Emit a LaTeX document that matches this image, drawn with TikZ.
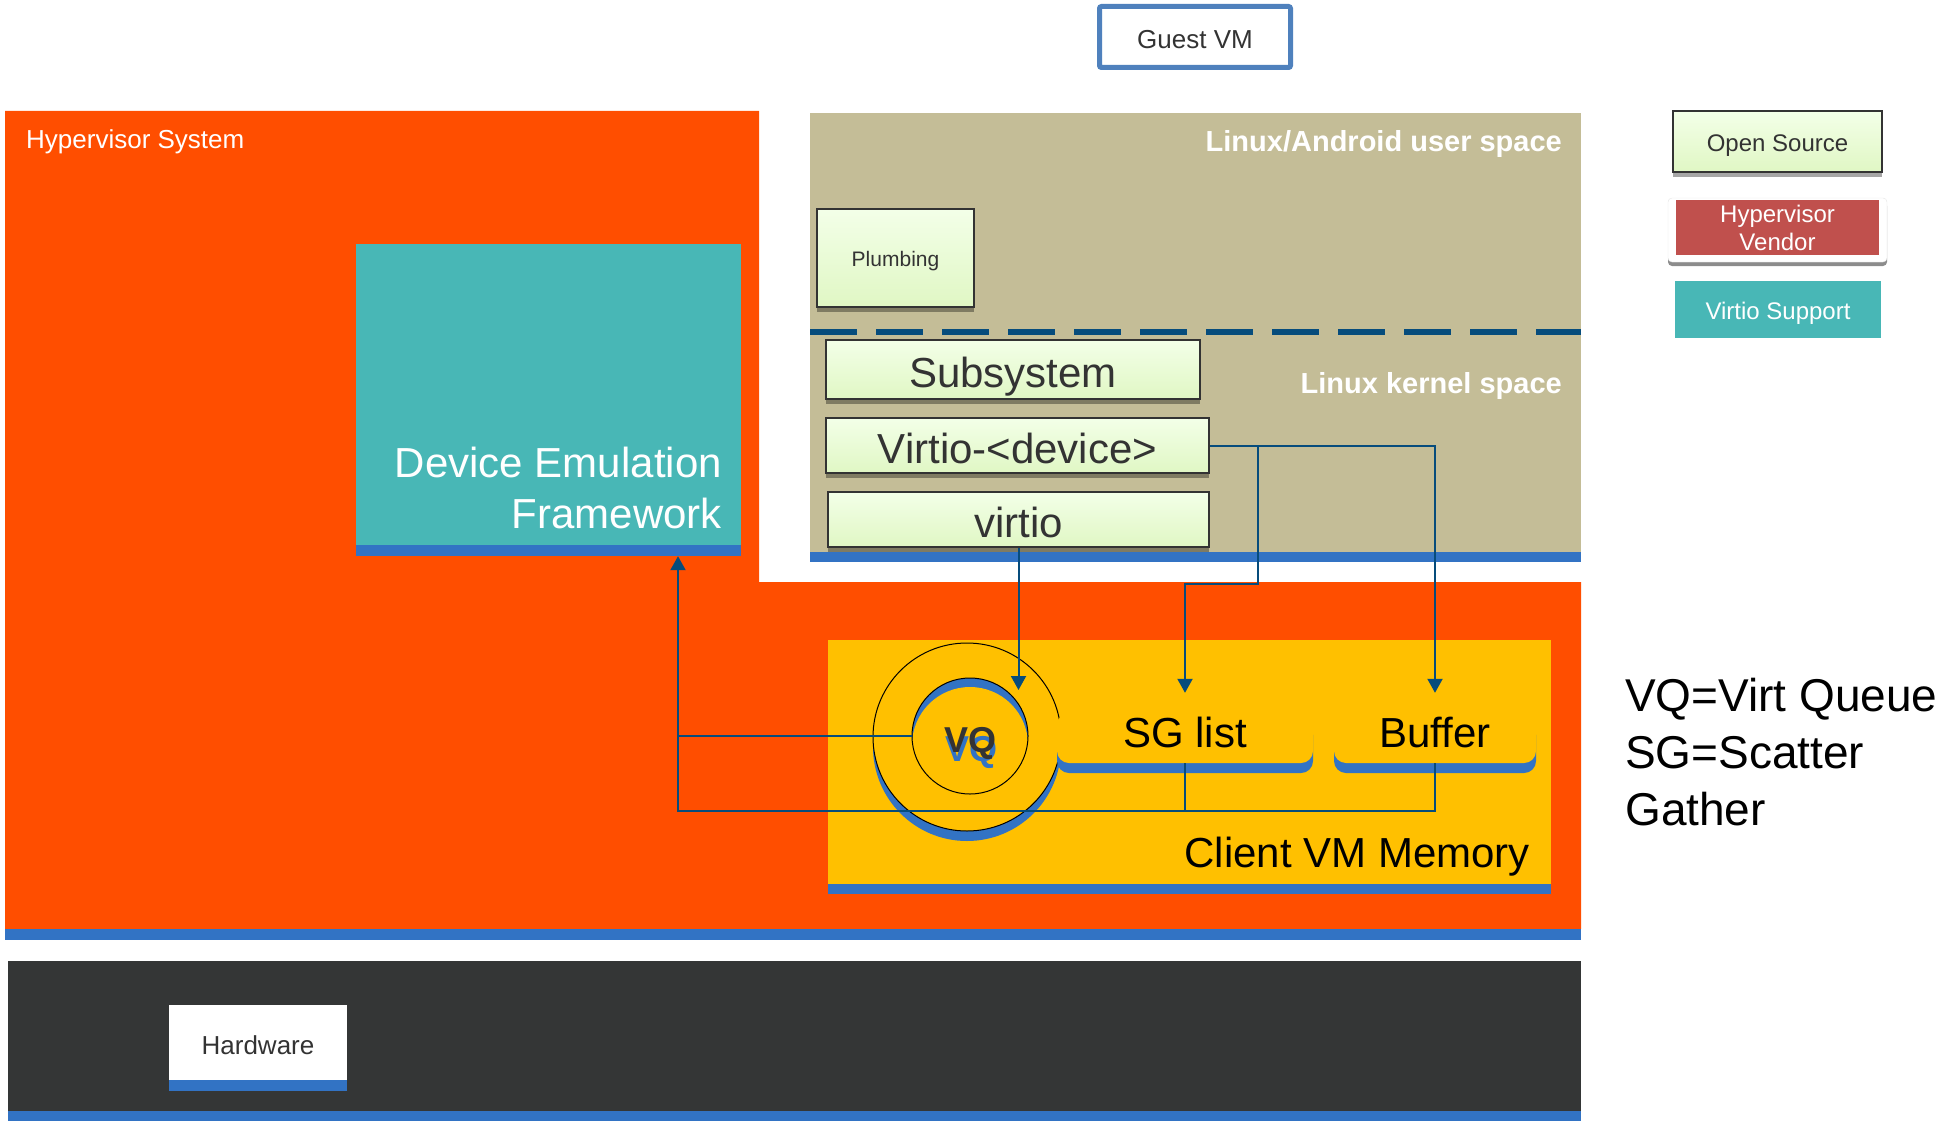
\documentclass[tikz,border=0pt]{standalone}
\usepackage{fontspec}
\setmainfont{Liberation Sans}
\usepackage{tikz}
\usetikzlibrary{arrows.meta}
\usetikzlibrary{shadows}

\definecolor{hypred}{HTML}{FF4E00}
\definecolor{barblue}{HTML}{3273C4}
\definecolor{userbeige}{HTML}{C4BD97}
\definecolor{memyellow}{HTML}{FFC000}
\definecolor{emuteal}{HTML}{48B7B6}
\definecolor{hwdark}{HTML}{343636}
\definecolor{linkblue}{HTML}{064C7C}
\definecolor{vendorred}{HTML}{C0504D}
\definecolor{guestblue}{HTML}{4F81BD}
\definecolor{ostop}{HTML}{F3FFE8}
\definecolor{osbot}{HTML}{E0F7C4}
\definecolor{txtgray}{HTML}{333333}

\begin{document}
\begin{tikzpicture}[x=1pt, y=-1pt,
  every node/.style={inner sep=0pt},
  link/.style={draw=linkblue, line width=2pt, -{Triangle[width=15pt,length=14pt]}},
  wire/.style={draw=linkblue, line width=2pt},
  osbox/.style={draw=txtgray, line width=2pt, top color=ostop, bottom color=osbot, text=txtgray,
    drop shadow={shadow xshift=0pt, shadow yshift=-5pt, fill=black, opacity=.35}},
  barred/.style={path picture={\fill[barblue] (path picture bounding box.south west) rectangle ([yshift=11pt]path picture bounding box.south east);}},
  memslot/.style={fill=memyellow, rounded corners=12pt, minimum height=50pt, text height=30pt, text depth=12pt,
    font=\fontsize{42}{50}\selectfont, drop shadow={shadow xshift=0pt, shadow yshift=-10pt, fill=barblue, opacity=1}},
  big/.style={font=\fontsize{42}{50}\selectfont, text height=35pt, text depth=0pt},
  small/.style={font=\fontsize{24}{28}\selectfont, text height=19pt, text depth=0pt}]
\useasboundingbox (0,0) rectangle (1951,1121);

\fill[hypred] (5,111) -- (759,111) -- (759,582) -- (1581,582) -- (1581,929) -- (5,929) -- cycle;
\fill[barblue] (5,929) rectangle (1581,940);
\fill[userbeige] (810,113) rectangle (1581,552);
\fill[barblue] (810,552) rectangle (1581,562);
\draw[linkblue, line width=5.5pt, dash pattern=on 47pt off 19pt] (810,332) -- (1581,332);
\fill[memyellow] (828,640) rectangle (1551,884);
\fill[barblue] (828,884) rectangle (1551,894);
\fill[hwdark] (8,961) rectangle (1581,1111);
\fill[barblue] (8,1111) rectangle (1581,1121);

\node[draw=guestblue, line width=5pt, rounded corners=2pt, fill=white, minimum width=191pt, minimum height=61pt,
  text=txtgray, text height=24pt, text depth=0pt, font=\fontsize{26}{31}\selectfont] (guest) at (1195,37) {Guest VM};
\node[anchor=north west, text=white, font=\fontsize{26}{31}\selectfont] (hypsys) at (26,129) {Hypervisor System};
\node[fill=emuteal, barred, minimum width=385pt, minimum height=312pt] (def) at (548.5,400) {};
\node[anchor=north east, align=right, text=white, font=\fontsize{42}{51}\selectfont] (deftext) at (722,447) {Device Emulation\\Framework};
\node[anchor=base east, text=white, font=\fontsize{29}{35}\selectfont\bfseries] (userspace) at (1562,152) {Linux/Android user space};
\node[anchor=base east, text=white, font=\fontsize{29}{35}\selectfont\bfseries] (kernelspace) at (1562,393) {Linux kernel space};

\node[osbox, minimum width=157pt, minimum height=98pt, text height=17pt, text depth=0pt, font=\fontsize{21}{25}\selectfont] (plumbing) at (895.5,258) {Plumbing};
\node[osbox, big, minimum width=374pt, minimum height=59pt] (subsys) at (1013,369.5) {Subsystem};
\node[osbox, big, minimum width=383pt, minimum height=55pt] (vdev) at (1017.5,445.5) {Virtio-<device>};
\node[osbox, big, minimum width=381pt, minimum height=55pt] (virtio) at (1018.5,519.5) {virtio};

\node[circle, minimum size=188pt, fill=memyellow, draw=black, line width=1pt,
  drop shadow={shadow xshift=0pt, shadow yshift=-10pt, fill=barblue, opacity=1}] (vqring) at (967,737) {};
\node[circle, minimum size=116pt, draw=black, line width=1pt,
  path picture={\fill[barblue] (path picture bounding box.center) circle[radius=60pt];
    \fill[memyellow] ([yshift=-9pt]path picture bounding box.center) circle[radius=58pt];}] (vq) at (970,736) {};
\node[text=barblue, font=\fontsize{36}{40}\selectfont\bfseries, text height=26pt, text depth=0pt] (vqshadow) at (971,748) {VQ};
\node[text=txtgray, font=\fontsize{36}{40}\selectfont\bfseries, text height=26pt, text depth=0pt] (vqtext) at (970,739) {VQ};

\node[memslot, minimum width=256pt] (sg) at (1185,738) {SG list};
\node[memslot, minimum width=202pt] (buf) at (1435,738) {Buffer};
\node[anchor=base east, font=\fontsize{42}{50}\selectfont] (memtext) at (1530,867) {Client VM Memory};

\coordinate (vqin) at (1000,690);
\coordinate (jog) at (1258,584);
\coordinate (ret) at (678,811);
\draw[link] (virtio.south) -- (virtio.south |- vqin);
\draw[link, shorten >=20pt] (vdev.east) -| (buf.north);
\draw[link, shorten >=20pt] (vdev.east -| jog) -- (jog) -| (sg.north);
\draw[wire] (sg.south) -- (sg.south |- ret);
\draw[wire] (vq.west) -- (vq.west -| ret);
\draw[link] (buf.south) |- (ret) -- (ret |- def.south);

\node[fill=white, barred, minimum width=178pt, minimum height=86pt, text=txtgray, text height=19pt, text depth=7pt,
  font=\fontsize{26}{31}\selectfont] (hwbox) at (258,1048) {Hardware};

\node[osbox, small, minimum width=209pt, minimum height=61pt] (opensrc) at (1777.5,141.5) {Open Source};
\node[fill=white, draw=black!10, rounded corners=4pt, minimum width=219pt, minimum height=64pt,
  drop shadow={shadow xshift=0pt, shadow yshift=-4pt, fill=black!45, opacity=1}] (vendorcard) at (1777.5,230) {};
\node[fill=vendorred, minimum width=203pt, minimum height=55pt, align=center, text=white,
  font=\fontsize{24}{28}\selectfont] (vendor) at (1777.5,227.5) {Hypervisor\\Vendor};
\node[fill=emuteal, small, text=white, minimum width=206pt, minimum height=57pt] (vsupport) at (1778,309.5) {Virtio Support};

\node[anchor=north west, align=left, font=\fontsize{46}{57}\selectfont] (abbrev) at (1625,678) {VQ=Virt Queue\\SG=Scatter\\Gather};
\end{tikzpicture}
\end{document}
